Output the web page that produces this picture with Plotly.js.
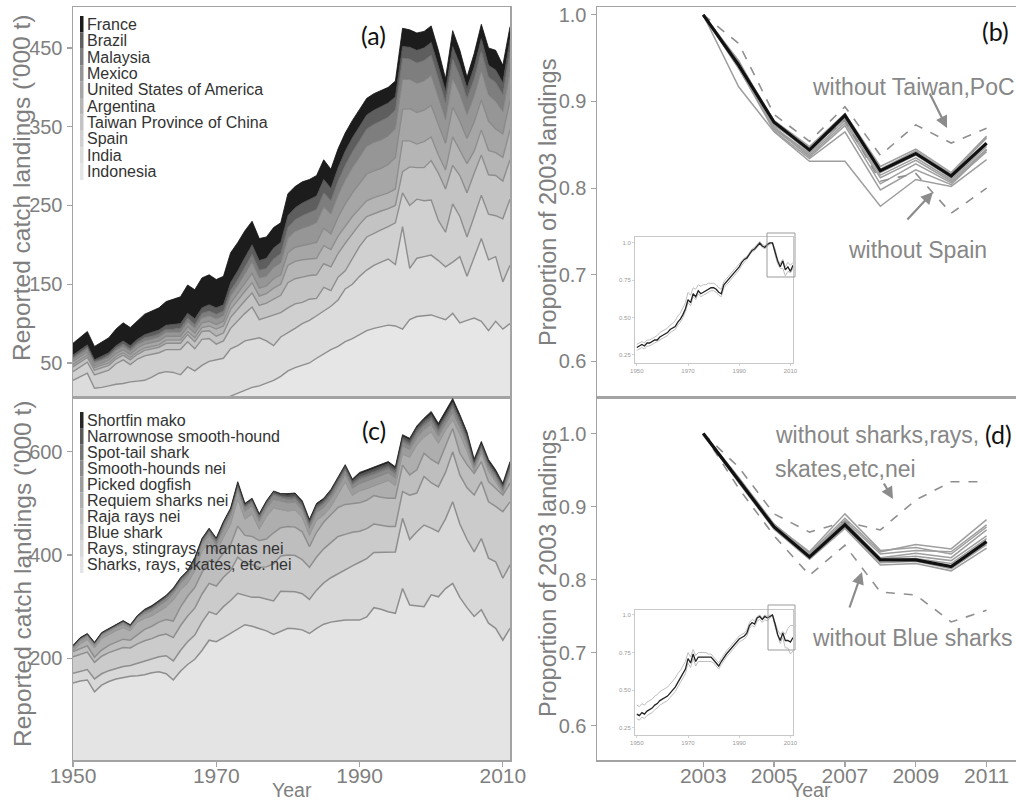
<!DOCTYPE html>
<html>
<head>
<meta charset="utf-8">
<script src="https://cdn.plot.ly/plotly-3.0.1.min.js"></script>
<style>html,body{margin:0;padding:0;background:#fff;}#chart{width:1016px;height:804px;}</style>
</head>
<body>
<div id="chart"></div>
<script>
// ---------- Years ----------
const years = [1950,1951,1952,1953,1954,1955,1956,1957,1958,1959,1960,1961,1962,1963,1964,1965,1966,1967,1968,1969,1970,1971,1972,1973,1974,1975,1976,1977,1978,1979,1980,1981,1982,1983,1984,1985,1986,1987,1988,1989,1990,1991,1992,1993,1994,1995,1996,1997,1998,1999,2000,2001,2002,2003,2004,2005,2006,2007,2008,2009,2010,2011];

// ---------- Panel (a): landings by country ('000 t), bottom to top ----------
const indonesia = [1,1,1,1,1,2,2,2,2,2, 3,3,3,3,3,4,4,4,4,5, 5,5,8,12,15,19,21,24,28,33, 40,44,47,50,56,62,67,71,77,81, 86,91,94,96,98,97,93,105,109,110, 111,108,105,113,101,104,107,103,91,103,93,100];
const india = [27,32,36,17,18,19,21,22,24,25, 25,29,34,36,35,31,41,36,43,47, 49,51,60,60,63,61,61,54,44,50, 48,50,53,54,54,54,55,59,67,69, 74,77,80,82,84,78,130,65,74,75, 76,72,67,65,84,56,78,105,90,82,60,74];
const spain = [11,12,14,17,19,20,26,30,22,28, 31,29,26,28,29,32,32,28,33,29, 20,22,26,32,35,41,23,30,39,31, 32,31,27,27,22,30,20,29,23,32, 38,42,41,41,41,53,43,80,75,71, 70,51,44,74,51,50,51,55,58,52,80,84];
const taiwan = [6,6,6,6,6,6,6,6,6,6, 7,7,7,8,8,8,9,9,10,10, 10,10,14,15,16,18,18,18,20,22, 32,32,32,30,30,30,30,30,35,32, 28,26,25,24,23,22,27,49,40,42, 50,60,55,49,52,56,55,51,50,51,48,50];
const argentina = [3,3,3,3,3,3,3,3,3,3, 3,3,3,4,4,4,4,5,5,6, 9,9,10,11,12,13,12,12,14,14, 22,22,22,21,21,23,22,22,22,22, 20,20,20,20,20,21,39,33,30,33, 30,23,24,36,31,37,28,32,31,29,30,38];
const usa = [4,4,4,3,3,4,4,4,4,5, 5,5,5,5,5,5,6,6,6,6, 6,6,8,8,10,12,10,10,12,12, 16,18,18,19,20,22,20,24,28,30, 32,34,34,34,36,40,40,41,40,40, 40,38,34,38,38,32,37,38,37,30,30,37];
const mexico = [3,3,3,3,3,3,4,4,4,4, 4,4,5,5,5,5,6,6,6,7, 7,7,9,10,12,14,13,12,14,15, 18,20,22,23,25,27,25,28,30,32, 33,35,36,36,36,36,38,37,37,37, 38,35,30,36,34,30,33,37,33,35,28,37];
const malaysia = [2,2,3,2,2,3,3,3,3,3, 4,4,4,4,4,5,5,5,6,6, 6,6,7,8,9,10,10,10,11,12, 14,15,16,17,17,18,17,18,19,20, 21,22,23,24,24,24,27,26,26,26, 26,24,22,25,23,21,22,25,23,24,22,25];
const brazil = [3,3,3,2,3,3,3,4,4,4, 4,5,5,5,6,6,6,7,7,8, 8,8,10,11,12,12,12,13,14,14, 15,15,16,16,17,17,16,17,18,18, 18,18,18,18,18,17,15,15,16,16, 16,16,14,16,15,13,15,16,15,16,15,16];
const france = [15,16,17,17,18,19,21,23,23,24, 26,27,28,30,32,34,36,37,38,38, 36,36,38,36,34,30,28,27,26,25, 28,27,27,26,26,25,24,24,23,22, 22,21,21,21,20,20,23,22,22,21, 21,20,16,20,18,14,17,18,22,25,22,16];
const countryNames = ["Indonesia","India","Spain","Taiwan Province of China","Argentina","United States of America","Mexico","Malaysia","Brazil","France"];

// ---------- Panel (c): landings by species ('000 t), bottom to top ----------
const sharksNei = [152,156,158,135,148,155,160,163,165,166, 168,172,174,170,158,175,188,198,215,235, 232,240,248,256,265,262,258,253,246,252, 258,257,255,248,258,266,270,272,274,274, 274,280,298,295,290,287,335,303,302,300, 323,319,335,345,318,298,281,294,268,258,235,258];
const raysNei = [19,19,20,25,22,21,20,21,21,24, 26,26,29,35,37,40,44,47,55,55, 53,60,64,70,57,56,60,62,65,78, 72,72,70,66,74,80,86,92,98,105, 112,113,107,110,115,119,136,127,143,158, 129,126,135,158,142,132,125,138,126,129,120,123];
const blueShark = [32,33,34,32,34,35,36,37,34,38, 40,40,41,42,45,48,50,52,54,55, 55,57,58,70,62,63,58,62,72,68, 70,70,66,62,64,66,68,72,68,65, 60,58,55,52,50,49,52,86,75,94, 88,87,90,97,95,100,110,110,109,107,129,122];
const rajaRays = [10,11,12,10,12,14,15,16,15,18, 22,24,26,28,32,36,38,40,42,44, 45,47,50,60,54,55,52,54,60,55, 55,55,54,40,48,52,54,56,58,56, 55,55,55,55,55,55,51,39,45,45, 45,45,50,45,42,45,42,39,39,35,32,36];
const requiem = [1,9,12,18,22,21,22,22,18,24, 21,20,20,24,40,33,25,32,41,36, 19,30,39,52,31,43,22,43,48,35, 30,33,27,22,23,13,15,25,43,15, 23,22,18,26,34,24,21,34,48,31, 53,39,31,16,36,26,4,16,20,13,3,19];
const pickedDogfish = [5,6,6,5,6,6,7,7,6,7, 9,10,11,12,13,13,14,14,13,14, 15,16,17,18,16,16,15,16,17,16, 16,15,15,14,15,15,16,15,15,14, 14,15,15,16,15,15,16,15,14,15, 15,14,13,15,14,13,7,6,6,6,5,6];
const smoothHounds = [3,3,3,3,3,3,3,4,3,3, 4,4,5,5,5,5,5,6,6,6, 6,7,7,7,7,7,7,7,8,7, 7,7,7,6,7,7,7,7,8,7, 8,8,8,8,8,8,8,8,9,8, 8,8,8,9,8,7,5,5,5,5,4,5];
const spotTail = [1,1,1,1,1,1,1,1,1,1, 2,2,2,2,2,2,2,2,2,3, 3,3,3,3,3,3,3,3,3,3, 4,4,4,4,4,4,4,4,4,4, 5,5,5,5,5,5,5,5,5,5, 6,6,6,6,6,6,4,4,4,4,4,4];
const narrownose = [1,1,1,1,1,1,1,1,1,1, 1,2,2,2,2,2,2,2,2,2, 3,3,3,3,3,3,3,3,3,3, 4,4,4,4,4,4,4,4,4,4, 5,5,5,5,5,5,5,5,5,5, 5,5,5,5,5,5,3,3,3,3,3,3];
const shortfinMako = [1,1,1,1,1,1,1,1,1,1, 2,2,2,2,2,2,2,2,2,2, 2,2,2,3,2,2,2,2,2,2, 3,3,3,3,3,3,3,3,3,3, 4,4,4,4,4,4,4,4,4,4, 6,6,6,7,6,6,5,5,5,5,4,5];
const speciesNames = ["Sharks, rays, skates, etc. nei","Rays, stingrays, mantas nei","Blue shark","Raja rays nei","Requiem sharks nei","Picked dogfish","Smooth-hounds nei","Spot-tail shark","Narrownose smooth-hound","Shortfin mako"];

// ---------- Panel (b): proportion of 2003 landings ----------
const recentYears = [2003,2004,2005,2006,2007,2008,2009,2010,2011];
const bAll        = [1.0,0.942,0.876,0.844,0.884,0.820,0.840,0.814,0.852];
const bNoFrance   = [1.0,0.945,0.872,0.846,0.880,0.822,0.843,0.816,0.858];
const bNoBrazil   = [1.0,0.938,0.870,0.840,0.878,0.815,0.835,0.810,0.848];
const bNoMalaysia = [1.0,0.945,0.878,0.848,0.886,0.825,0.845,0.818,0.860];
const bNoMexico   = [1.0,0.940,0.868,0.838,0.875,0.812,0.832,0.808,0.845];
const bNoUSA      = [1.0,0.947,0.874,0.842,0.882,0.818,0.838,0.812,0.850];
const bNoArgentina= [1.0,0.939,0.866,0.834,0.865,0.798,0.821,0.804,0.844];
const bNoIndia    = [1.0,0.944,0.870,0.836,0.872,0.805,0.828,0.806,0.842];
const bNoIndonesia= [1.0,0.917,0.865,0.831,0.831,0.779,0.810,0.802,0.833];
const bNoTaiwan   = [1.0,0.967,0.885,0.854,0.894,0.838,0.873,0.852,0.869];
const bNoSpain    = [1.0,0.945,0.875,0.846,0.878,0.808,0.817,0.771,0.800];

// ---------- Panel (d) ----------
const dAll        = [1.0,0.936,0.872,0.831,0.875,0.827,0.827,0.818,0.852];
const dNoMako     = [1.0,0.940,0.876,0.836,0.884,0.838,0.848,0.842,0.882];
const dNoNarrow   = [1.0,0.938,0.874,0.834,0.881,0.835,0.840,0.838,0.875];
const dNoSpotTail = [1.0,0.936,0.872,0.832,0.878,0.830,0.836,0.830,0.868];
const dNoSmooth   = [1.0,0.934,0.870,0.830,0.876,0.829,0.832,0.826,0.860];
const dNoDogfish  = [1.0,0.937,0.873,0.833,0.880,0.826,0.829,0.822,0.856];
const dNoRequiem  = [1.0,0.935,0.871,0.829,0.872,0.823,0.825,0.815,0.848];
const dNoRaja     = [1.0,0.933,0.869,0.828,0.870,0.820,0.822,0.812,0.843];
const dNoRays     = [1.0,0.939,0.875,0.838,0.890,0.840,0.844,0.835,0.872];
const dNoSharksNei= [1.0,0.954,0.890,0.865,0.879,0.868,0.909,0.934,0.934];
const dNoBlue     = [1.0,0.925,0.860,0.806,0.847,0.783,0.779,0.742,0.758];

// ---------- Insets (1950-2011) ----------
const insetBAll = [0.30,0.31,0.32,0.31,0.33,0.33,0.34,0.35,0.35,0.37, 0.38,0.39,0.40,0.42,0.43,0.44,0.47,0.49,0.52,0.56, 0.62,0.60,0.66,0.64,0.68,0.66,0.67,0.68,0.69,0.70, 0.70,0.69,0.67,0.66,0.72,0.74,0.76,0.78,0.80,0.82, 0.84,0.87,0.89,0.90,0.93,0.95,0.96,0.98,1.00,0.98, 0.97,0.99,1.00,1.00,0.94,0.88,0.84,0.88,0.82,0.84,0.81,0.85];
const insetBHi = [0.32,0.33,0.34,0.33,0.35,0.35,0.36,0.37,0.38,0.40, 0.41,0.42,0.43,0.45,0.46,0.48,0.51,0.53,0.56,0.60, 0.67,0.65,0.70,0.69,0.72,0.71,0.72,0.72,0.73,0.73, 0.73,0.72,0.70,0.69,0.74,0.76,0.78,0.80,0.82,0.84, 0.86,0.88,0.90,0.91,0.94,0.96,0.97,0.99,1.01,0.99, 0.98,1.00,1.00,1.00,0.96,0.89,0.86,0.89,0.84,0.87,0.85,0.87];
const insetBLo = [0.28,0.29,0.30,0.29,0.31,0.31,0.32,0.33,0.34,0.35, 0.36,0.37,0.38,0.40,0.41,0.42,0.45,0.47,0.50,0.54, 0.60,0.58,0.64,0.62,0.66,0.64,0.65,0.66,0.67,0.68, 0.68,0.67,0.65,0.64,0.70,0.72,0.74,0.76,0.78,0.80, 0.82,0.85,0.87,0.89,0.92,0.94,0.95,0.97,0.99,0.97, 0.96,0.98,0.99,1.00,0.92,0.86,0.83,0.83,0.78,0.81,0.80,0.83];
const insetDAll = [0.34,0.33,0.35,0.34,0.36,0.37,0.38,0.40,0.41,0.43, 0.44,0.45,0.46,0.48,0.50,0.52,0.55,0.58,0.61,0.64, 0.71,0.68,0.74,0.69,0.72,0.72,0.72,0.72,0.72,0.72, 0.70,0.68,0.66,0.69,0.72,0.74,0.76,0.78,0.80,0.82, 0.84,0.85,0.86,0.88,0.93,0.95,0.94,0.98,0.99,0.97, 0.99,0.98,0.99,1.00,0.94,0.87,0.83,0.88,0.83,0.83,0.82,0.85];
const insetDHi = [0.40,0.39,0.41,0.40,0.42,0.43,0.44,0.46,0.47,0.49, 0.50,0.51,0.52,0.54,0.56,0.58,0.61,0.63,0.66,0.69, 0.75,0.72,0.77,0.73,0.75,0.75,0.75,0.75,0.74,0.74, 0.72,0.70,0.68,0.71,0.74,0.76,0.78,0.80,0.82,0.84, 0.86,0.87,0.88,0.90,0.95,0.97,0.96,0.99,1.00,0.98, 1.00,0.99,1.00,1.00,0.95,0.90,0.87,0.89,0.87,0.91,0.93,0.93];
const insetDLo = [0.31,0.30,0.32,0.31,0.33,0.34,0.35,0.37,0.38,0.40, 0.41,0.42,0.43,0.45,0.47,0.49,0.52,0.55,0.58,0.61, 0.68,0.65,0.71,0.66,0.69,0.69,0.69,0.69,0.69,0.69, 0.68,0.66,0.64,0.67,0.70,0.72,0.74,0.76,0.78,0.80, 0.82,0.83,0.84,0.86,0.91,0.93,0.92,0.96,0.97,0.95, 0.97,0.96,0.98,1.00,0.92,0.86,0.81,0.85,0.78,0.78,0.74,0.76];

// ---------- Tick labels ----------
const aTicks = [50,150,250,350,450];
const cTicks = [200,400,600];
const yearTicks = [1950,1970,1990,2010];
const propTicks = [0.6,0.7,0.8,0.9,1.0];
const recentTicks = [2003,2005,2007,2009,2011];
const insetXTicks = [1950,1970,1990,2010];
const insetYTicks = [0.25,0.5,0.75,1.0];
const insetYText = ["0.25","0.50","0.75","1.0"];

// ---------- Styling ----------
const W = 1016, H = 804;
const px = v => v / W;
const py = v => 1 - v / H;
const border = '#a3a3a3';
const tickGrey = '#7f7f7f';
const annGrey = '#878787';
const FONT = 'Liberation Sans, Arial, sans-serif';

const aSeries = [indonesia, india, spain, taiwan, argentina, usa, mexico, malaysia, brazil, france];
const aFill = ['#e6e6e6','#dcdcdc','#d0d0d0','#c3c3c3','#b5b5b5','#a6a6a6','#969696','#7e7e7e','#5e5e5e','#1c1c1c'];
const aLine = ['#8e8e8e','#8e8e8e','#8e8e8e','#8e8e8e','#8e8e8e','#8a8a8a','#7c7c7c','#6a6a6a','#484848','#111111'];

const cSeries = [sharksNei, raysNei, blueShark, rajaRays, requiem, pickedDogfish, smoothHounds, spotTail, narrownose, shortfinMako];
const cFill = ['#e4e4e4','#d8d8d8','#cbcbcb','#bebebe','#aeaeae','#9c9c9c','#8a8a8a','#747474','#575757','#262626'];
const cLine = ['#8e8e8e','#8e8e8e','#8e8e8e','#8e8e8e','#8a8a8a','#808080','#767676','#606060','#454545','#1a1a1a'];

const traces = [];
aSeries.forEach((s, i) => traces.push({
  type:'scatter', mode:'lines', x: years, y: s, name: countryNames[i],
  stackgroup:'a', xaxis:'x', yaxis:'y',
  fillcolor: aFill[i], line:{color:aLine[i], width: i < 6 ? 1.4 : 0.8}
}));
cSeries.forEach((s, i) => traces.push({
  type:'scatter', mode:'lines', x: years, y: s, name: speciesNames[i],
  stackgroup:'c', xaxis:'x2', yaxis:'y2',
  fillcolor: cFill[i], line:{color:cLine[i], width: i < 4 ? 1.5 : 0.8}
}));

function line(x, y, xa, ya, color, width, dash){
  return {type:'scatter', mode:'lines', x:x, y:y, xaxis:xa, yaxis:ya,
          line:{color:color, width:width, dash:dash||'solid'}};
}
// panel (b)
[bNoFrance,bNoBrazil,bNoMalaysia,bNoMexico,bNoUSA,bNoArgentina,bNoIndia,bNoIndonesia].forEach(s =>
  traces.push(line(recentYears, s, 'x3', 'y3', '#9e9e9e', 1.5)));
traces.push(line(recentYears, bNoTaiwan, 'x3', 'y3', '#8f8f8f', 1.6, 'dash'));
traces.push(line(recentYears, bNoSpain, 'x3', 'y3', '#8f8f8f', 1.6, 'dash'));
traces.push(line(recentYears, bAll, 'x3', 'y3', '#111111', 3.2));
// panel (d)
[dNoMako,dNoNarrow,dNoSpotTail,dNoSmooth,dNoDogfish,dNoRequiem,dNoRaja,dNoRays].forEach(s =>
  traces.push(line(recentYears, s, 'x4', 'y4', '#9e9e9e', 1.5)));
traces.push(line(recentYears, dNoSharksNei, 'x4', 'y4', '#8f8f8f', 1.6, 'dash'));
traces.push(line(recentYears, dNoBlue, 'x4', 'y4', '#8f8f8f', 1.6, 'dash'));
traces.push(line(recentYears, dAll, 'x4', 'y4', '#111111', 3.2));
// insets
traces.push(line(years, insetBHi, 'x5', 'y5', '#b8b8b8', 0.9));
traces.push(line(years, insetBLo, 'x5', 'y5', '#b8b8b8', 0.9));
traces.push(line(years, insetBAll, 'x5', 'y5', '#222222', 1.3));
traces.push(line(years, insetDHi, 'x6', 'y6', '#b8b8b8', 0.9));
traces.push(line(years, insetDLo, 'x6', 'y6', '#b8b8b8', 0.9));
traces.push(line(years, insetDAll, 'x6', 'y6', '#222222', 1.3));

const baseAxis = {showgrid:false, zeroline:false, showline:true, linecolor:border, linewidth:1.5,
  ticks:'outside', ticklen:5, tickwidth:1.2, tickcolor:border, tickfont:{family:FONT, size:20, color:tickGrey}};
const insetAxis = {showgrid:false, zeroline:false, showline:true, mirror:true, linecolor:'#c8c8c8', linewidth:1,
  ticks:'outside', ticklen:2, tickwidth:0.8, tickcolor:'#c8c8c8', tickfont:{family:FONT, size:6, color:'#9a9a9a'}};

const layout = {
  width: W, height: H, margin:{l:0,r:0,t:0,b:0},
  paper_bgcolor:'#ffffff', plot_bgcolor:'#ffffff', showlegend:false, hovermode:false,
  font:{family:FONT, color:tickGrey},
  xaxis: Object.assign({}, baseAxis, {domain:[px(73),px(510)], range:[1950,2011], anchor:'y', mirror:true, showticklabels:false, ticks:''}),
  yaxis: Object.assign({}, baseAxis, {domain:[py(397),py(7)], range:[6.8,502], anchor:'x', mirror:true, tickvals:aTicks}),
  xaxis2: Object.assign({}, baseAxis, {domain:[px(73),px(510)], range:[1950,2011], anchor:'y2', mirror:true, tickvals:yearTicks, ticklabelstandoff:-9, tickfont:{family:FONT,size:21,color:tickGrey}}),
  yaxis2: Object.assign({}, baseAxis, {domain:[py(760),py(397)], range:[3,706], anchor:'x2', mirror:true, tickvals:cTicks}),
  xaxis3: Object.assign({}, baseAxis, {domain:[px(597),1], range:[2000,2011.83], anchor:'y3', mirror:true, showticklabels:false, ticks:''}),
  yaxis3: Object.assign({}, baseAxis, {domain:[py(397),py(7)], range:[0.559,1.009], anchor:'x3', tickvals:propTicks, tickformat:'.1f'}),
  xaxis4: Object.assign({}, baseAxis, {domain:[px(597),1], range:[2000,2011.83], anchor:'y4', mirror:true, tickvals:recentTicks, ticklabelstandoff:-9, tickfont:{family:FONT,size:21,color:tickGrey}}),
  yaxis4: Object.assign({}, baseAxis, {domain:[py(760),py(397)], range:[0.553,1.050], anchor:'x4', tickvals:propTicks, tickformat:'.1f'}),
  xaxis5: Object.assign({}, insetAxis, {domain:[px(635),px(793)], range:[1949.3,2011], anchor:'y5', tickvals:insetXTicks}),
  yaxis5: Object.assign({}, insetAxis, {domain:[py(363),py(237)], range:[0.196,1.04], anchor:'x5', tickvals:insetYTicks, ticktext:insetYText}),
  xaxis6: Object.assign({}, insetAxis, {domain:[px(635),px(793)], range:[1949.3,2011], anchor:'y6', tickvals:insetXTicks}),
  yaxis6: Object.assign({}, insetAxis, {domain:[py(735),py(610)], range:[0.201,1.033], anchor:'x6', tickvals:insetYTicks, ticktext:insetYText}),
  shapes: [],
  annotations: []
};

// inset zoom boxes
layout.shapes.push({type:'rect', xref:'paper', yref:'paper', x0:px(767), x1:px(795), y0:py(277), y1:py(233), line:{color:'#9a9a9a', width:1}, fillcolor:'rgba(0,0,0,0)'});
layout.shapes.push({type:'rect', xref:'paper', yref:'paper', x0:px(768), x1:px(795), y0:py(650), y1:py(605), line:{color:'#9a9a9a', width:1}, fillcolor:'rgba(0,0,0,0)'});

// custom legends (top entry = top of stack)
function addLegend(names, fills, top, step){
  const n = names.length;
  for (let k = 0; k < n; k++){
    const idx = n - 1 - k;
    layout.shapes.push({type:'rect', xref:'paper', yref:'paper', x0:px(80), x1:px(83.5),
      y0:py(top + (k+1)*step), y1:py(top + k*step), fillcolor:fills[idx], line:{width:0}});
    layout.annotations.push({xref:'paper', yref:'paper', x:px(85), y:py(top + k*step + step/2),
      xanchor:'left', yanchor:'middle', showarrow:false, text:names[idx],
      font:{family:FONT, size:16, color:'#333333'}});
  }
}
addLegend(countryNames, aFill, 16, 16.4);
addLegend(speciesNames, cFill, 412, 16.1);

// axis titles
function txt(x, y, t, opts){
  layout.annotations.push(Object.assign({xref:'paper', yref:'paper', x:px(x), y:py(y), text:t, showarrow:false,
    xanchor:'center', yanchor:'middle', font:{family:FONT, size:20, color:tickGrey}}, opts||{}));
}
txt(22, 188, "Reported catch landings ('000 t)", {textangle:-90, font:{family:FONT, size:24.5, color:tickGrey}});
txt(22, 574, "Reported catch landings ('000 t)", {textangle:-90, font:{family:FONT, size:24.5, color:tickGrey}});
txt(548, 203, "Proportion of 2003 landings", {textangle:-90, font:{family:FONT, size:23.5, color:tickGrey}});
txt(548, 574, "Proportion of 2003 landings", {textangle:-90, font:{family:FONT, size:23.5, color:tickGrey}});
txt(292, 803, "Year", {yanchor:'bottom', font:{family:FONT, size:19.5, color:tickGrey}});
txt(811, 803, "Year", {yanchor:'bottom', font:{family:FONT, size:19.5, color:tickGrey}});

// panel labels
const lab = {family:'Lato, Open Sans, sans-serif', size:25, color:'#111111'};
txt(373, 35, "(a)", {font:lab});
txt(374, 430, "(c)", {font:lab});
txt(995, 31, "(b)", {font:lab});
txt(998, 434, "(d)", {font:lab});

// annotations in (b) and (d)
const af = {family:FONT, size:23, color:annGrey};
txt(913, 87, "without Taiwan,PoC", {font:af});
txt(917, 250, "without Spain", {font:af});
txt(773, 435, "without sharks,rays,", {font:af, xanchor:'left'});
txt(773, 469, "skates,etc,nei", {font:af, xanchor:'left'});
txt(912, 638, "without Blue sharks", {font:af});

function arrow(hx, hy, tx, ty){
  layout.annotations.push({xref:'paper', yref:'paper', x:px(hx), y:py(hy), ax:tx-hx, ay:ty-hy,
    text:'', showarrow:true, arrowhead:2, arrowsize:1.1, arrowwidth:2.2, arrowcolor:'#8c8c8c'});
}
arrow(947, 128, 929, 92);
arrow(933, 192, 906, 221);
arrow(893, 499, 883, 482);
arrow(862, 572, 849, 609);

Plotly.newPlot('chart', traces, layout, {displayModeBar:false, staticPlot:true});
</script>
</body>
</html>
